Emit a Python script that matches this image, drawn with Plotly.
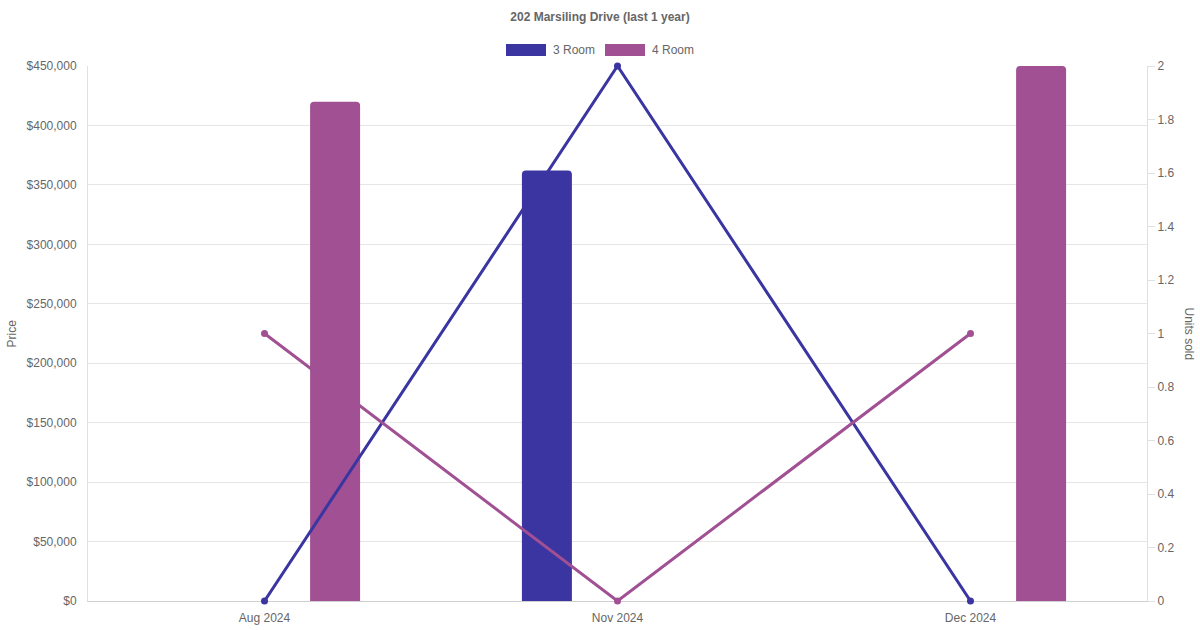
import plotly.graph_objects as go

months = ["Aug 2024", "Nov 2024", "Dec 2024"]
price_3room = [None, 362000, None]
price_4room = [420000, None, 450000]
units_3room = [0, 2, 0]
units_4room = [1, 0, 1]
series_names = ["3 Room", "4 Room"]
price_ticks = list(range(0, 450001, 50000))
price_tick_labels = [f"${v:,}" for v in price_ticks]
units_ticks = [round(i * 0.2, 1) for i in range(11)]

C3 = "#3a35a1"
C4 = "#a05093"
FONT = "Liberation Sans, Arial, sans-serif"
GRAY = "#666666"

L, R, T, B = 88, 53, 66, 29
W, H = 1200, 630
PW, PH = W - L - R, H - T - B

def px(xp):
    return (xp - L) / PW

def py(yp):
    return (H - B - yp) / PH

fig = go.Figure()

bar_w = 50 / (PW / 3)
fig.add_trace(go.Bar(x=months, y=price_3room, name=series_names[0], marker=dict(color=C3, cornerradius=4, line=dict(width=0)),
                     width=bar_w, offset=-0.2 - bar_w / 2, yaxis="y", showlegend=False))
fig.add_trace(go.Bar(x=months, y=price_4room, name=series_names[1], marker=dict(color=C4, cornerradius=4, line=dict(width=0)),
                     width=bar_w, offset=0.2 - bar_w / 2, yaxis="y", showlegend=False))
fig.add_trace(go.Scatter(x=months, y=units_3room, name=series_names[0], mode="lines+markers", cliponaxis=False,
                         line=dict(color=C3, width=3), marker=dict(color=C3, size=7), yaxis="y2", showlegend=False))
fig.add_trace(go.Scatter(x=months, y=units_4room, name=series_names[1], mode="lines+markers", cliponaxis=False,
                         line=dict(color=C4, width=3), marker=dict(color=C4, size=7), yaxis="y2", showlegend=False))

shapes = []
annotations = []
legend_items = [(series_names[0], C3, 506), (series_names[1], C4, 605)]
for name, col, x0 in legend_items:
    shapes.append(dict(type="rect", xref="paper", yref="paper", x0=px(x0), x1=px(x0 + 40), y0=py(56), y1=py(44),
                       fillcolor=col, line=dict(width=0)))
    annotations.append(dict(text=name, xref="paper", yref="paper", x=px(x0 + 45), y=py(50), xanchor="left", yanchor="middle",
                            showarrow=False, font=dict(family=FONT, size=12, color=GRAY)))

annotations.append(dict(text="Price", xref="paper", yref="paper", x=px(11), y=0.5, textangle=-90, xanchor="center",
                        yanchor="middle", showarrow=False, font=dict(family=FONT, size=12, color=GRAY)))
annotations.append(dict(text="Units sold", xref="paper", yref="paper", x=px(1189), y=0.5, textangle=90, xanchor="center",
                        yanchor="middle", showarrow=False, font=dict(family=FONT, size=12, color=GRAY)))

fig.update_layout(
    width=W, height=H,
    margin=dict(l=L, r=R, t=T, b=B, autoexpand=False),
    paper_bgcolor="white", plot_bgcolor="white",
    font=dict(family=FONT, size=12, color=GRAY),
    title=dict(text="<b>202 Marsiling Drive (last 1 year)</b>", x=0.5, xanchor="center", y=1 - 17 / H, yanchor="middle",
               font=dict(family=FONT, size=12, color=GRAY)),
    showlegend=False,
    barmode="overlay",
    xaxis=dict(type="category", showgrid=False, showline=True, linecolor="#d0d0d0", linewidth=1, ticks="outside",
               ticklen=6, tickcolor="rgba(0,0,0,0)", tickfont=dict(size=12, color=GRAY), zeroline=False,
               layer="below traces"),
    yaxis=dict(range=[0, 450000], tickvals=price_ticks, ticktext=price_tick_labels, showgrid=True,
               gridcolor="#e6e6e6", gridwidth=1, showline=True, linecolor="#e0e0e0", linewidth=1, zeroline=False,
               ticks="outside", ticklen=8, tickcolor="rgba(0,0,0,0)", tickfont=dict(size=12, color=GRAY),
               layer="below traces"),
    yaxis2=dict(range=[0, 2], tickvals=units_ticks, overlaying="y", side="right", showgrid=False, showline=True,
                linecolor="#e0e0e0", linewidth=1, zeroline=False, ticks="outside", ticklen=7, tickcolor="#e0e0e0",
                tickfont=dict(size=12, color=GRAY), layer="below traces"),
    shapes=shapes,
    annotations=annotations,
)

fig.write_html("out.html", config={"displayModeBar": False},
               post_script="document.body.style.margin='0';document.body.style.overflow='hidden';")
